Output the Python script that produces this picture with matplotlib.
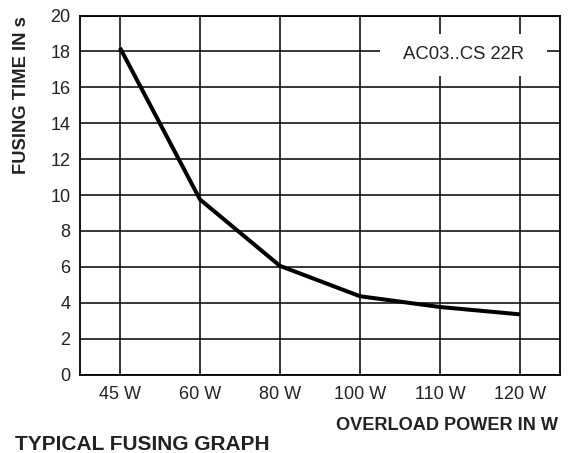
import matplotlib
matplotlib.use("Agg")
import matplotlib.pyplot as plt
from matplotlib.patches import Rectangle

categories = ["45 W", "60 W", "80 W", "100 W", "110 W", "120 W"]
fusing_time = [18.2, 9.75, 6.05, 4.36, 3.76, 3.35]
y_ticks = [0, 2, 4, 6, 8, 10, 12, 14, 16, 18, 20]

plt.rcParams['font.family'] = ['Liberation Sans', 'DejaVu Sans']

fig = plt.figure(figsize=(5.69, 4.53), dpi=100)
W, H = 569, 453
ax = fig.add_axes([80 / W, 1 - 374.5 / H, 480 / W, 359 / H])

x = list(range(len(categories)))
ax.plot(x, fusing_time, color="black", lw=2.9, solid_joinstyle="round",
        solid_capstyle="butt", zorder=3)

ax.set_xlim(-0.5, len(categories) - 0.5)
ax.set_ylim(0, 20)
ax.set_xticks(x)
ax.set_xticklabels(categories)
ax.set_yticks(y_ticks)
ax.tick_params(length=0, labelsize=13, colors="#222222", pad=7)
ax.tick_params(axis="x", pad=8)
ax.grid(True, color="black", lw=1.1)
for s in ax.spines.values():
    s.set_linewidth(1.3)
    s.set_color("black")

ax.add_patch(Rectangle((3.25, 16.64), 2.09, 2.33, facecolor="white", edgecolor="none", zorder=2.5))
ax.text(4.29, 17.8, "AC03..CS 22R", ha="center", va="center", fontsize=13.3, color="#222222", zorder=4)

fig.text(22 / W, 1 - 95 / H, "FUSING TIME IN s", rotation=90, ha="center", va="center",
         fontsize=13.2, fontweight="bold", color="#222222")
fig.text(558 / W, 1 - 425 / H, "OVERLOAD POWER IN W", ha="right", va="center",
         fontsize=13.1, fontweight="bold", color="#222222")
fig.text(15 / W, 1 - 445 / H, "TYPICAL FUSING GRAPH", ha="left", va="center",
         fontsize=15, fontweight="bold", color="#222222")

fig.savefig("out.png", dpi=100)
